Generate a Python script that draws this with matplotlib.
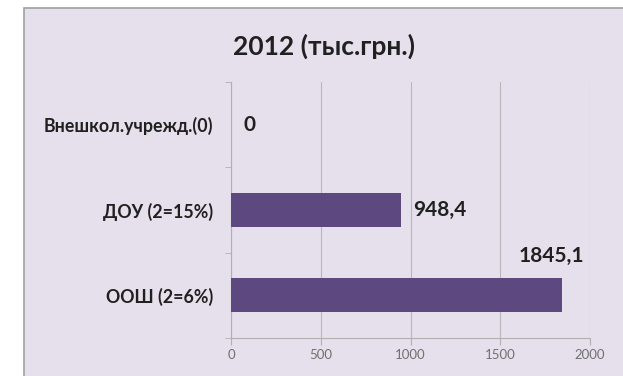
import numpy as np
import matplotlib
matplotlib.use('Agg')
import matplotlib.pyplot as plt
import matplotlib.patches as patches

plt.rcParams['font.family'] = ['Lato', 'Noto Sans', 'DejaVu Sans']

categories = ['Внешкол.учрежд.(0)', 'ДОУ (2=15%)', 'ООШ (2=6%)']
values = [0, 948.4, 1845.1]
value_labels = ['0', '948,4', '1845,1']
xticks = [0, 500, 1000, 1500, 2000]

bg = '#e6e0ec'
bar_col = '#5d487f'

fig = plt.figure(figsize=(6.23, 3.76), dpi=100)
fig.patch.set_facecolor('white')

# chart panel, behind the axes
panel = patches.Rectangle((24/623, -0.01), 1.0, 1.01 - 8/376, transform=fig.transFigure,
                          facecolor=bg, edgecolor='#a0a0a0', linewidth=1.2, zorder=-5)
fig.patches.append(panel)

ax = fig.add_axes([231/623, 1 - 338/376, (590 - 231)/623, (338 - 82)/376])
ax.patch.set_alpha(0)

y = np.arange(len(categories))
ax.barh(y, values, height=0.4, color=bar_col, zorder=3)
ax.set_ylim(len(categories) - 0.5, -0.5)
ax.set_xlim(0, 2000)

ax.set_xticks(xticks)
ax.set_xticklabels([str(t) for t in xticks], color='#707070', fontsize=9.5)
ax.set_yticks(y)
ax.set_yticklabels(categories, fontsize=12.8, fontweight='bold', color='#202020')
ax.set_yticks(np.arange(-0.5, len(categories), 1.0), minor=True)
ax.tick_params(axis='y', which='major', length=0, pad=13)
ax.tick_params(axis='y', which='minor', length=4, color='#b0b0b0', direction='out')
ax.tick_params(axis='x', length=5, color='#b0b0b0', pad=3)

ax.grid(axis='x', color='#b8b8b8', linewidth=0.8, zorder=0)
for s in ['top', 'right']:
    ax.spines[s].set_visible(False)
for s in ['left', 'bottom']:
    ax.spines[s].set_color('#b0b0b0')

# data labels
for i, (v, lab) in enumerate(zip(values, value_labels)):
    if i == 2:
        ax.annotate(lab, (v, i - 0.46), xytext=(-11, 0), textcoords='offset pixels',
                    ha='center', va='center', fontsize=15,
                    fontweight='bold', color='#202020')
    else:
        ax.annotate(lab, (v, i), xytext=(12, 0), textcoords='offset pixels',
                    ha='left', va='center', fontsize=15,
                    fontweight='bold', color='#202020')

fig.text(324/623, 1 - 46/376, '2012 (тыс.грн.)', ha='center', va='center',
         fontsize=19, fontweight='bold', color='#202020')

fig.savefig('out.png', dpi=100, facecolor='white')
